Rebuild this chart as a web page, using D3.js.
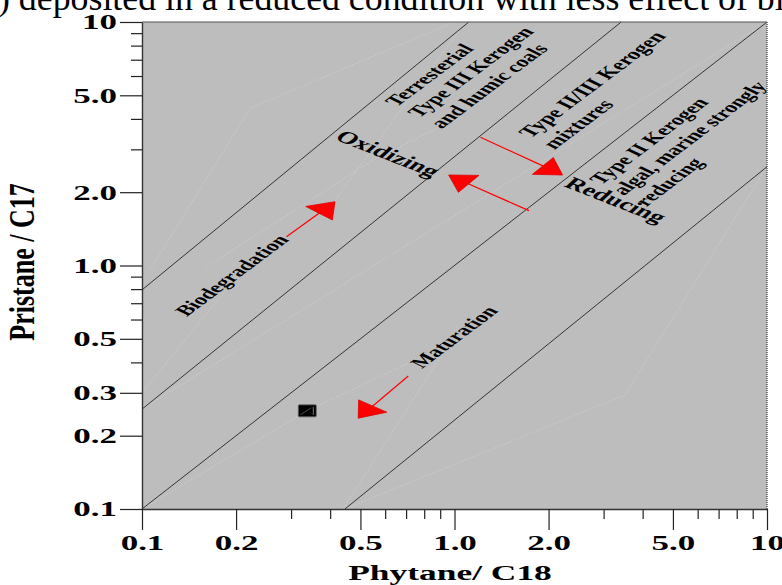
<!DOCTYPE html>
<html><head><meta charset="utf-8">
<script src="https://cdn.jsdelivr.net/npm/d3@7"></script>
<style>html,body{margin:0;padding:0;background:#fff;overflow:hidden}</style>
</head><body>
<svg id="chart" width="782" height="585"></svg>
<script>
// ---------- data ----------
const headerText = ") deposited in a reduced condition with less effect of biodegradation";
const xMajorTicks = [0.1, 0.2, 0.5, 1, 2, 5, 10];
const xTickLabels = ["0.1", "0.2", "0.5", "1.0", "2.0", "5.0", "10"];
const xMinorTicks = [0.3, 0.4, 0.6, 0.7, 0.8, 0.9, 3, 4, 6, 7, 8, 9];
const yMajorTicks = [0.1, 0.2, 0.3, 0.5, 1, 2, 5, 10];
const yTickLabels = ["0.1", "0.2", "0.3", "0.5", "1.0", "2.0", "5.0", "10"];
const yMinorTicks = [0.4, 0.6, 0.7, 0.8, 0.9, 3, 4, 6, 7, 8, 9];
const xTitle = "Phytane/ C18";
const yTitle = "Pristane / C17";

// boundary lines [Ph/C18, Pr/C17]
const boundaryLines = [
  [[0.1, 0.794], [1.111, 10]],
  [[0.1, 0.257], [3.415, 10]],
  [[0.1, 0.1], [10, 10]],
  [[0.446, 0.1], [10, 2.545]]
];
// faint seams in the background
const seamLines = [
  [[0.106, 0.958], [0.222, 4.43], [1.0, 10]],
  [[0.1, 0.1], [0.338, 0.253], [0.72, 0.40]],
  [[0.1, 0.257], [10, 10]],
  [[0.161, 0.99], [0.549, 2.71], [1.04, 4.07]],
  [[0.446, 0.1], [3.51, 0.294], [10, 2.545]],
  [[0.44, 0.1], [0.90, 0.42]],
  [[0.1, 0.30], [0.222, 1.05]],
  [[0.41, 1.82], [1.04, 9.3]]
];
// sample
const samplePh = [0.338];
const samplePr = [0.253];
// arrows: from -> to
const arrowFrom = [[0.290, 1.313], [0.7115, 0.3517], [1.211, 3.362], [1.731, 1.680]];
const arrowTo   = [[0.4145, 1.828], [0.492, 0.236], [2.218, 2.353], [0.958, 2.353]];
// annotations
const annotationLines = [
  ["Terresterial", "Type III Kerogen", "and humic coals"],
  ["Type II/III Kerogen", "mixtures"],
  ["Type II Kerogen", "algal, marine strongly", "reducing"],
  ["Oxidizing"],
  ["Reducing"],
  ["Biodegradation"],
  ["Maturation"]
];
const annotationAnchor = [
  [0.654, 4.468], [1.753, 3.324], [2.950, 2.137],
  [0.411, 3.307], [2.225, 2.121], [0.139, 0.614], [0.787, 0.376]
];

// ---------- styles ----------
const S = 1.65; // horizontal stretch of the original figure
const annStyle = [
  {size: 15, angle: -51, lh: 17.5},
  {size: 15.5, angle: -51, lh: 18.5},
  {size: 15, angle: -51.5, lh: 17.5},
  {size: 17, angle: 33},
  {size: 17, angle: 33},
  {size: 15, angle: -51},
  {size: 15, angle: -51}
];
const serif = "'Liberation Serif','Times New Roman',serif";

const svg = d3.select("#chart");
const x = d3.scaleLog().domain([0.1, 10]).range([142, 767]);
const y = d3.scaleLog().domain([0.1, 10]).range([509, 22]);

// header text (clipped at top)
svg.append("text").attr("x", -2).attr("y", 10)
  .attr("font-family", serif).attr("font-size", 35.8).attr("fill", "#000")
  .text(headerText);

// plot background
svg.append("rect").attr("x", x(0.1)).attr("y", y(10))
  .attr("width", x(10) - x(0.1)).attr("height", y(0.1) - y(10))
  .attr("fill", "#bdbdbd");

svg.append("clipPath").attr("id", "pc").append("rect")
  .attr("x", x(0.1)).attr("y", y(10)).attr("width", x(10) - x(0.1)).attr("height", y(0.1) - y(10));
const plot = svg.append("g").attr("clip-path", "url(#pc)");
const line = d3.line().x(d => x(d[0])).y(d => y(d[1]));

plot.selectAll("path.seam").data(seamLines).join("path").attr("class", "seam")
  .attr("d", line).attr("fill", "none").attr("stroke", "#d4d4d4")
  .attr("stroke-width", 0.6).attr("stroke-dasharray", "2,1.5");

plot.selectAll("path.bound").data(boundaryLines).join("path").attr("class", "bound")
  .attr("d", line).attr("fill", "none").attr("stroke", "#111").attr("stroke-width", 0.8);

// frame: top and right
svg.append("line").attr("x1", x(0.1)).attr("x2", x(10)).attr("y1", y(10)).attr("y2", y(10))
  .attr("stroke", "#555").attr("stroke-width", 1.2);
svg.append("line").attr("x1", x(10)).attr("x2", x(10)).attr("y1", y(10)).attr("y2", y(0.1))
  .attr("stroke", "#555").attr("stroke-width", 1.5).attr("stroke-dasharray", "1,1");

// arrows
const arrowG = svg.append("g");
arrowFrom.forEach((f, i) => {
  const t = arrowTo[i];
  const sx = x(f[0]), sy = y(f[1]), tx = x(t[0]), ty = y(t[1]);
  let dx = (tx - sx) / S, dy = ty - sy;
  const len = Math.hypot(dx, dy); dx /= len; dy /= len;
  const L = 15, W = 10.5;
  const bx = -dx * L, by = -dy * L;
  const px = -dy, py = dx;
  const pts = [[0, 0], [bx + px * W, by + py * W], [bx - px * W, by - py * W]]
    .map(p => [tx + p[0] * S, ty + p[1]]);
  arrowG.append("line").attr("x1", sx).attr("y1", sy)
    .attr("x2", tx + bx * 0.7 * S).attr("y2", ty + by * 0.7)
    .attr("stroke", "#ff0000").attr("stroke-width", 1.2);
  arrowG.append("polygon").attr("points", pts.map(p => p.join(",")).join(" "))
    .attr("fill", "#ff0000").attr("stroke", "#e00000").attr("stroke-width", 0.8);
});

// sample marker
svg.selectAll("g.sample").data(samplePh).join("g").attr("class", "sample")
  .each(function (d, i) {
    const cx = x(d), cy = y(samplePr[i]);
    const g = d3.select(this);
    g.append("rect").attr("x", cx - 9).attr("y", cy - 6).attr("width", 18).attr("height", 12)
      .attr("rx", 1).attr("fill", "#000").attr("stroke", "#666").attr("stroke-width", 0.8);
    g.append("line").attr("x1", cx - 7).attr("y1", cy + 4).attr("x2", cx + 4).attr("y2", cy - 3)
      .attr("stroke", "#777").attr("stroke-width", 0.6);
    g.append("line").attr("x1", cx + 6).attr("y1", cy - 4).attr("x2", cx + 6).attr("y2", cy + 4)
      .attr("stroke", "#999").attr("stroke-width", 0.8);
  });

// annotations
annotationLines.forEach((lines, i) => {
  const st = annStyle[i];
  const ax = x(annotationAnchor[i][0]), ay = y(annotationAnchor[i][1]);
  const t = svg.append("text")
    .attr("transform", `translate(${ax},${ay}) scale(${S},1) rotate(${st.angle})`)
    .attr("font-family", serif).attr("font-weight", "bold").attr("font-size", st.size)
    .attr("fill", "#000");
  lines.forEach((ln, k) => {
    t.append("tspan").attr("x", 0).attr("y", k * (st.lh || 0)).text(ln);
  });
});

// axes
const axL = svg.append("g").attr("transform", `translate(${x(0.1)},0)`);
axL.call(d3.axisLeft(y).tickValues(yMinorTicks).tickSize(11).tickSizeOuter(0).tickFormat(""));
axL.call(g => g.select(".domain").remove());
const axL2 = svg.append("g").attr("transform", `translate(${x(0.1)},0)`);
axL2.call(d3.axisLeft(y).tickValues(yMajorTicks).tickSize(22).tickSizeOuter(0)
  .tickFormat((d, i) => yTickLabels[i]));
axL2.selectAll("text").attr("x", null).attr("dy", "0.34em")
  .attr("transform", `translate(-25,0) scale(1.75,1)`)
  .attr("text-anchor", "end");

const axB = svg.append("g").attr("transform", `translate(0,${y(0.1)})`);
axB.call(d3.axisBottom(x).tickValues(xMinorTicks).tickSize(10).tickSizeOuter(0).tickFormat(""));
axB.call(g => g.select(".domain").remove());
const axB2 = svg.append("g").attr("transform", `translate(0,${y(0.1)})`);
axB2.call(d3.axisBottom(x).tickValues(xMajorTicks).tickSize(21).tickSizeOuter(0)
  .tickFormat((d, i) => xTickLabels[i]));
axB2.selectAll("text").attr("y", null).attr("dy", null)
  .attr("transform", `translate(0,41) scale(1.75,1)`)
  .attr("text-anchor", "middle");

[axL, axL2, axB, axB2].forEach(a => {
  a.attr("font-family", serif).attr("font-size", 20).attr("font-weight", "bold");
  a.selectAll("line").attr("stroke", "#222").attr("stroke-width", 1.2);
  a.selectAll("path.domain").attr("stroke", "#333").attr("stroke-width", 1.4);
  a.selectAll("text").attr("fill", "#000");
});

// axis titles
svg.append("text").attr("transform", `translate(450,580) scale(1.61,1)`)
  .attr("text-anchor", "middle").attr("font-family", serif).attr("font-weight", "bold")
  .attr("font-size", 22).text(xTitle);
svg.append("text").attr("transform", `translate(34,262) scale(1.4,1) rotate(-90)`)
  .attr("text-anchor", "middle").attr("font-family", serif).attr("font-weight", "bold")
  .attr("font-size", 26).text(yTitle);
</script>
</body></html>
